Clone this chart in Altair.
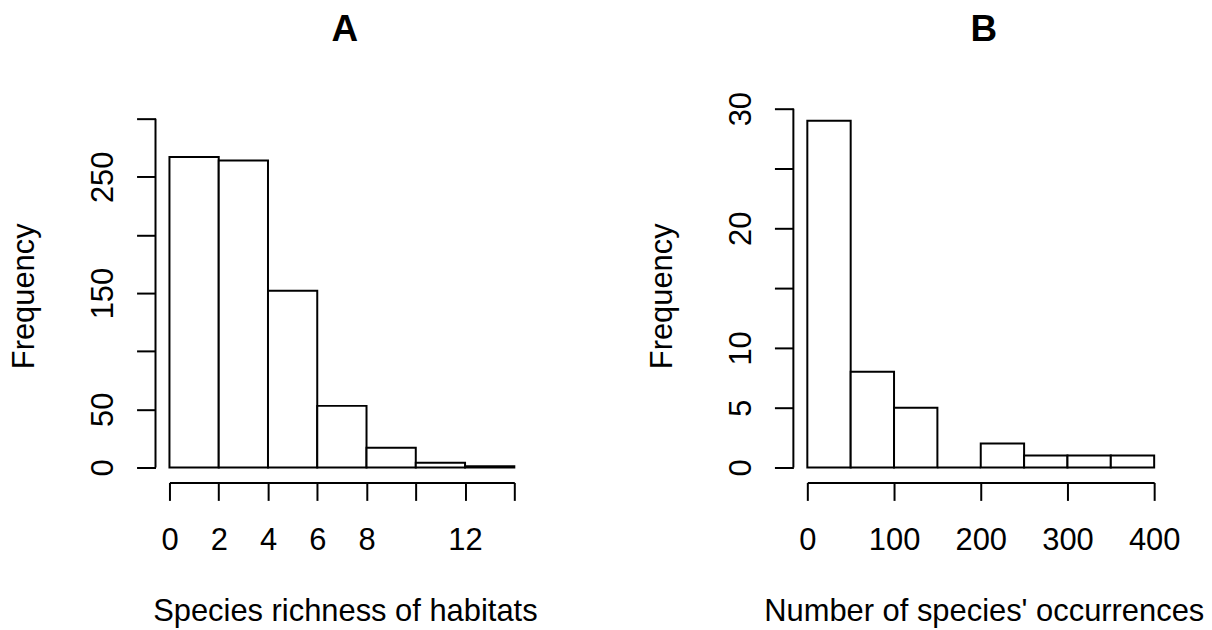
import altair as alt
import pandas as pd

# ---- data ----
a_breaks = [0, 2, 4, 6, 8, 10, 12, 14]
a_counts = [267, 264, 152, 53, 17, 4, 1]
a_xticks = [0, 2, 4, 6, 8, 10, 12, 14]
a_xshown = [0, 2, 4, 6, 8, 12]
a_yticks = [0, 50, 100, 150, 200, 250, 300]
a_yshown = [0, 50, 150, 250]

b_breaks = [0, 50, 100, 150, 200, 250, 300, 350, 400]
b_counts = [29, 8, 5, 0, 2, 1, 1, 1]
b_xticks = [0, 100, 200, 300, 400]
b_xshown = [0, 100, 200, 300, 400]
b_yticks = [0, 5, 10, 15, 20, 25, 30]
b_yshown = [0, 5, 10, 20, 30]

FONT = "Liberation Sans"
FS = 31
H = 360


def shown_expr(vals):
    return "indexof([" + ",".join(str(v) for v in vals) + "], datum.value) >= 0 ? datum.label : ''"


def panel(breaks, counts, W, ydom, ytop, xticks, xshown, yticks, yshown, xtitle, letter, anchor=False):
    df = pd.DataFrame({
        "start": breaks[:-1],
        "end": breaks[1:],
        "count": counts,
        "zero": [0] * len(counts),
    })
    xaxis = alt.Axis(
        values=xticks, labelExpr=shown_expr(xshown), title=xtitle,
        titleX=W / 2 + 3, titleY=139, titleBaseline="alphabetic", titleAlign="center",
        titleFont=FONT, titleFontSize=FS, titleFontWeight="normal", titleColor="black",
        labelFont=FONT, labelFontSize=FS, labelColor="black", labelAngle=0,
        labelBaseline="alphabetic", labelAlign="center", labelPadding=49,
        labelFlush=False, labelOverlap=False, labelBound=False,
        tickColor="black", tickWidth=2, tickSize=18,
        domainColor="black", domainWidth=2, offset=15, grid=False,
    )
    yaxis = alt.Axis(
        values=yticks, labelExpr=shown_expr(yshown), title="Frequency",
        titleAngle=270, titleX=-122, titleY=187.7, titleAlign="center", titleBaseline="alphabetic",
        titleFont=FONT, titleFontSize=FS, titleFontWeight="normal", titleColor="black",
        labelFont=FONT, labelFontSize=FS, labelColor="black", labelAngle=270,
        labelAlign="center", labelBaseline="alphabetic", labelPadding=24,
        labelFlush=False, labelOverlap=False, labelBound=False,
        tickColor="black", tickWidth=2, tickSize=19,
        domain=False, offset=14, grid=False,
    )
    bars = alt.Chart(df).mark_rect(fill="white", stroke="black", strokeWidth=2).encode(
        x=alt.X("start:Q", scale=alt.Scale(domain=[breaks[0], breaks[-1]], nice=False, zero=False), axis=xaxis),
        x2="end:Q",
        y=alt.Y("count:Q", scale=alt.Scale(domain=[0, ydom], nice=False), axis=yaxis),
        y2="zero:Q",
    )
    one = pd.DataFrame({"k": [0]})
    yline = alt.Chart(one).mark_rule(color="black", strokeWidth=2).encode(
        x=alt.value(-14), y=alt.datum(0), y2=alt.datum(ytop)
    )
    ttl = alt.Chart(one).mark_text(
        text=letter, font=FONT, fontSize=37, fontWeight="bold",
        baseline="alphabetic", align="center", color="black",
    ).encode(x=alt.value(W / 2 + 3), y=alt.value(-67.6))
    layers = [bars, yline, ttl]
    if anchor:
        anc = alt.Chart(one).mark_rule(opacity=0, strokeWidth=1).encode(
            x=alt.value(-161), x2=alt.value(-160), y=alt.value(-99.8), y2=alt.value(-99.8)
        )
        layers.append(anc)
    return alt.layer(*layers).properties(width=W, height=H)


pa = panel(a_breaks, a_counts, 346, 300 * H / 350, 300, a_xticks, a_xshown, a_yticks, a_yshown,
           "Species richness of habitats", "A", anchor=True)
pb = panel(b_breaks, b_counts, 348, 30, 30, b_xticks, b_xshown, b_yticks, b_yshown,
           "Number of species' occurrences", "B")

chart = alt.hconcat(pa, pb, spacing=294, bounds="flush").configure_view(stroke=None).properties(
    padding=0, background="white"
)

chart.save("out.html", embed_options={"renderer": "svg", "actions": False})
